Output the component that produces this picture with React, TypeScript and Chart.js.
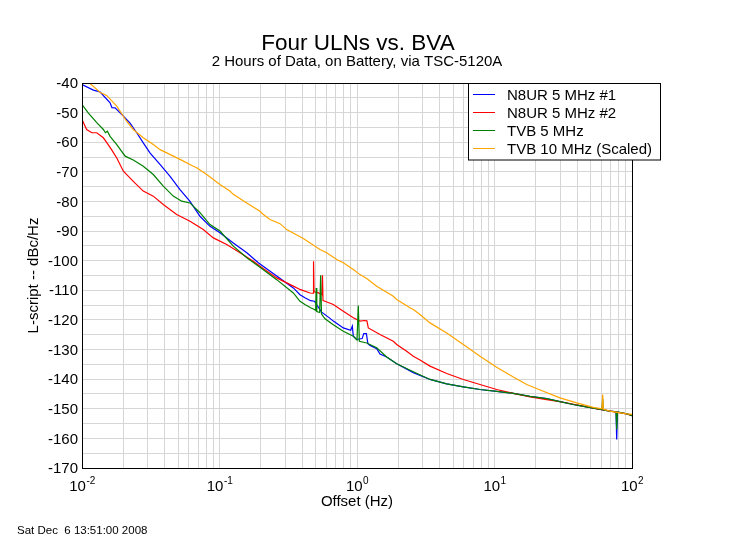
import { useEffect, useRef } from "react";
import { Chart, registerables } from "chart.js";

Chart.register(...registerables);

const FONT = '"Liberation Sans", Arial, Helvetica, sans-serif';

const titleText = "Four ULNs vs. BVA";
const subtitleText = "2 Hours of Data, on Battery, via TSC-5120A";
const xAxisTitle = "Offset (Hz)";
const yAxisTitle = "L-script -- dBc/Hz";
const footerText = "Sat Dec  6 13:51:00 2008";

const seriesNames = ["N8UR 5 MHz #1", "N8UR 5 MHz #2", "TVB 5 MHz", "TVB 10 MHz (Scaled)"];
const seriesColors = ["#0000ff", "#ff0000", "#008000", "#ffa500"];

const xTickExponents = [-2, -1, 0, 1, 2];
const yTickValues = [-170, -160, -150, -140, -130, -120, -110, -100, -90, -80, -70, -60, -50, -40];

const blueFreq = [0.01, 0.0121, 0.0135, 0.016, 0.0165, 0.0174, 0.02, 0.0223, 0.025, 0.0279, 0.0312, 0.0369, 0.0437, 0.0516, 0.061, 0.0721, 0.0853, 0.1008, 0.126, 0.158, 0.1915, 0.2606, 0.3442, 0.385, 0.418, 0.46, 0.49, 0.52, 0.538, 0.55, 0.63, 0.6725, 0.7952, 0.9, 0.925, 0.94, 0.995, 1.09, 1.12, 1.17, 1.2, 1.2435, 1.391, 1.47, 1.644, 1.944, 2.568, 3.396, 4.492, 5.933, 7.845, 10.37, 13.7, 18.13, 23.97, 29.95, 39.61, 52.3, 69.2, 76.5, 77.4, 78.3, 91.5, 100];
const blueVal = [-40.5, -42.4, -43.0, -46.7, -48.3, -48.4, -51.2, -53.5, -56.8, -60.2, -63.6, -67.5, -71.5, -76.0, -80.0, -85.0, -88.4, -90.6, -94.0, -97.3, -100.7, -105.2, -109.2, -111.5, -112.5, -113.5, -113.7, -115.5, -116.5, -117.3, -119.3, -120.4, -122.7, -123.5, -122.1, -125.5, -126.6, -126.3, -124.6, -124.6, -128.0, -128.6, -129.7, -131.5, -132.5, -134.8, -137.8, -140.1, -141.6, -142.6, -143.5, -144.1, -144.8, -145.8, -146.6, -147.6, -148.8, -149.8, -150.8, -151.0, -160.4, -151.1, -151.7, -152.3];

const redFreq = [0.01, 0.0108, 0.0118, 0.0128, 0.0143, 0.0155, 0.0164, 0.0179, 0.02, 0.0236, 0.0279, 0.033, 0.039, 0.0488, 0.061, 0.0762, 0.0902, 0.1128, 0.141, 0.1762, 0.197, 0.2606, 0.3442, 0.385, 0.4552, 0.479, 0.483, 0.487, 0.52, 0.556, 0.561, 0.566, 0.5851, 0.6725, 0.7952, 0.9399, 1.05, 1.13, 1.18, 1.2087, 1.47, 1.837, 1.944, 2.298, 2.568, 2.872, 3.396, 4.492, 5.933, 7.845, 10.37, 13.7, 18.13, 23.97, 31.66, 41.86, 52.3, 69.2, 91.5, 100];
const redVal = [-52.3, -55.7, -56.8, -56.8, -58.5, -60.8, -62.5, -65.3, -69.8, -73.2, -76.5, -78.2, -81.0, -84.4, -86.7, -89.5, -92.3, -94.5, -97.3, -100.2, -101.9, -105.8, -108.6, -109.7, -110.9, -111.0, -100.2, -110.5, -110.8, -111.5, -104.9, -113.5, -113.7, -114.8, -117.1, -119.3, -120.4, -120.2, -120.3, -122.7, -124.9, -127.2, -128.3, -130.6, -132.3, -133.5, -135.6, -138.1, -140.1, -141.8, -143.5, -144.8, -146.0, -146.9, -147.8, -148.9, -149.8, -150.8, -151.7, -152.3];

const greenFreq = [0.01, 0.0111, 0.0128, 0.0143, 0.0148, 0.0153, 0.016, 0.0179, 0.0206, 0.0236, 0.0279, 0.033, 0.039, 0.0461, 0.0531, 0.061, 0.0721, 0.0853, 0.1008, 0.126, 0.158, 0.197, 0.2606, 0.3442, 0.385, 0.418, 0.46, 0.49, 0.5, 0.505, 0.51, 0.535, 0.544, 0.552, 0.5851, 0.6725, 0.7952, 0.9399, 1.0, 1.022, 1.04, 1.1766, 1.391, 1.644, 1.944, 2.568, 3.396, 4.492, 5.933, 7.845, 10.37, 13.7, 18.13, 23.97, 29.95, 39.61, 52.3, 60.5, 61.2, 62, 69.2, 76.5, 77.4, 78.3, 91.5, 100];
const greenVal = [-47.3, -50.1, -53.4, -55.7, -56.8, -56.3, -58.0, -60.8, -64.7, -66.0, -68.1, -70.9, -74.8, -78.2, -79.9, -80.5, -83.8, -87.8, -90.0, -95.1, -99.0, -102.2, -106.4, -110.9, -113.7, -114.8, -115.9, -116.5, -116.8, -109.2, -117.2, -117.5, -104.9, -118.0, -119.6, -121.6, -123.8, -125.5, -126.8, -115.1, -127.2, -127.8, -129.4, -132.5, -134.8, -137.5, -140.1, -141.6, -142.6, -143.5, -144.1, -144.8, -145.8, -146.6, -147.6, -148.8, -149.8, -150.3, -146.6, -150.4, -150.8, -151.0, -157.0, -151.1, -151.7, -152.3];

const orangeFreq = [0.01, 0.0111, 0.0135, 0.0151, 0.0179, 0.0211, 0.0236, 0.0279, 0.033, 0.037, 0.0413, 0.0516, 0.0645, 0.0683, 0.0807, 0.0902, 0.1008, 0.119, 0.126, 0.1577, 0.197, 0.2083, 0.233, 0.2754, 0.3081, 0.4069, 0.5382, 0.602, 0.712, 0.7952, 0.9399, 1.0515, 1.1766, 1.391, 1.837, 1.944, 2.429, 2.568, 2.872, 3.396, 4.492, 5.933, 7.845, 10.37, 13.7, 17.15, 22.64, 29.95, 39.61, 52.3, 60.5, 61.2, 62, 69.2, 91.5, 100];
const orangeVal = [-38.0, -39.6, -43.1, -44.2, -47.8, -52.9, -55.7, -58.5, -60.8, -62.5, -63.6, -65.8, -68.1, -68.6, -70.9, -72.6, -74.3, -76.5, -77.6, -80.5, -83.3, -84.4, -86.1, -87.5, -89.5, -92.5, -96.2, -97.3, -99.6, -100.7, -103.0, -104.7, -106.0, -108.6, -112.0, -113.1, -115.9, -116.5, -118.2, -121.0, -124.4, -128.3, -132.3, -136.0, -139.3, -141.8, -144.1, -146.3, -148.0, -149.5, -150.0, -145.2, -150.2, -150.8, -151.7, -151.9];

const xGridValues: number[] = [];
for (let e = -2; e <= 1; e++) {
  for (let m = 1; m <= 9; m++) xGridValues.push(Number((m * Math.pow(10, e)).toPrecision(3)));
}
xGridValues.push(100);

const overlayPlugin = {
  id: "overlay",
  beforeDraw(chart: any) {
    const { ctx } = chart;
    ctx.save();
    ctx.fillStyle = "#ffffff";
    ctx.fillRect(0, 0, chart.width, chart.height);
    ctx.restore();
  },
  afterDraw(chart: any) {
    const { ctx, chartArea } = chart;
    const xs = chart.scales.x;
    const ys = chart.scales.y;
    const cx = (chartArea.left + chartArea.right) / 2;
    ctx.save();
    ctx.strokeStyle = "#000";
    ctx.lineWidth = 1;
    ctx.strokeRect(Math.round(chartArea.left) + 0.5, Math.round(chartArea.top) + 0.5,
      Math.round(chartArea.right - chartArea.left), Math.round(chartArea.bottom - chartArea.top));

    ctx.fillStyle = "#000";
    ctx.textAlign = "center";
    ctx.textBaseline = "alphabetic";
    ctx.font = `22.5px ${FONT}`;
    ctx.fillText(titleText, cx + 1, 49.5);
    ctx.font = `15px ${FONT}`;
    ctx.fillText(subtitleText, cx, 66);

    ctx.textAlign = "right";
    ctx.textBaseline = "middle";
    ctx.font = `15px ${FONT}`;
    for (const v of yTickValues) {
      ctx.fillText(String(v), chartArea.left - 4, ys.getPixelForValue(v) + 1);
    }

    ctx.textAlign = "left";
    ctx.textBaseline = "alphabetic";
    for (const e of xTickExponents) {
      const px = xs.getPixelForValue(Math.pow(10, e));
      ctx.font = `15px ${FONT}`;
      const w1 = ctx.measureText("10").width;
      ctx.font = `10px ${FONT}`;
      const w2 = ctx.measureText(String(e)).width;
      const start = px - (w1 + w2) / 2;
      ctx.font = `15px ${FONT}`;
      ctx.fillText("10", start, 491);
      ctx.font = `10px ${FONT}`;
      ctx.fillText(String(e), start + w1 + 0.5, 484);
    }

    ctx.textAlign = "center";
    ctx.font = `15px ${FONT}`;
    ctx.fillText(xAxisTitle, cx, 506);
    ctx.save();
    ctx.translate(38, (chartArea.top + chartArea.bottom) / 2);
    ctx.rotate(-Math.PI / 2);
    ctx.textBaseline = "alphabetic";
    ctx.fillText(yAxisTitle, 0, 0);
    ctx.restore();

    ctx.textAlign = "left";
    ctx.font = `11.5px ${FONT}`;
    ctx.fillText(footerText, 17, 534);

    const lx = 468.5, ly = 83.5, lw = 192, lh = 76.5;
    ctx.fillStyle = "#fff";
    ctx.fillRect(lx, ly, lw, lh);
    ctx.strokeStyle = "#000";
    ctx.strokeRect(lx, ly, lw, lh);
    ctx.font = `15px ${FONT}`;
    chart.data.datasets.forEach((ds: any, i: number) => {
      const rowY = 94.5 + i * 18;
      ctx.strokeStyle = ds.borderColor;
      ctx.lineWidth = 1;
      ctx.beginPath();
      ctx.moveTo(473, rowY);
      ctx.lineTo(495, rowY);
      ctx.stroke();
      ctx.fillStyle = "#000";
      ctx.fillText(ds.label, 507, rowY + 5.5);
    });
    ctx.restore();
  },
};

export default function App() {
  const ref = useRef<HTMLCanvasElement>(null);
  useEffect(() => {
    const toPts = (fs: number[], vs: number[]) => fs.map((f, i) => ({ x: f, y: vs[i] }));
    const freqs = [blueFreq, redFreq, greenFreq, orangeFreq];
    const vals = [blueVal, redVal, greenVal, orangeVal];
    const chart = new Chart(ref.current as HTMLCanvasElement, {
      type: "line",
      data: {
        datasets: seriesNames.map((name, i) => ({
          label: name,
          data: toPts(freqs[i], vals[i]),
          borderColor: seriesColors[i],
          backgroundColor: seriesColors[i],
          borderWidth: 1.2,
          pointRadius: 0,
          tension: 0,
          fill: false,
          order: 4 - i,
        })),
      },
      options: {
        animation: false,
        responsive: false,
        devicePixelRatio: 1,
        layout: { padding: { left: 82, top: 83, right: 118, bottom: 82 } },
        plugins: {
          legend: { display: false },
          title: { display: false },
          tooltip: { enabled: false },
        },
        scales: {
          x: {
            type: "logarithmic",
            min: 0.01,
            max: 100,
            afterBuildTicks: (s: any) => {
              s.ticks = xGridValues.map((v) => ({ value: v }));
            },
            ticks: { display: false },
            grid: { color: "#d6d6d6", drawTicks: false, lineWidth: 1 },
            border: { display: false },
          },
          y: {
            type: "linear",
            min: -170,
            max: -40,
            ticks: { display: false, stepSize: 5 },
            grid: { color: "#d6d6d6", drawTicks: false, lineWidth: 1 },
            border: { display: false },
          },
        },
      } as any,
      plugins: [overlayPlugin],
    });
    return () => chart.destroy();
  }, []);
  return (
    <div style={{ position: "fixed", left: 0, top: 0, width: 750, height: 550, background: "#fff" }}>
      <canvas ref={ref} width={750} height={550} style={{ display: "block" }} />
    </div>
  );
}
